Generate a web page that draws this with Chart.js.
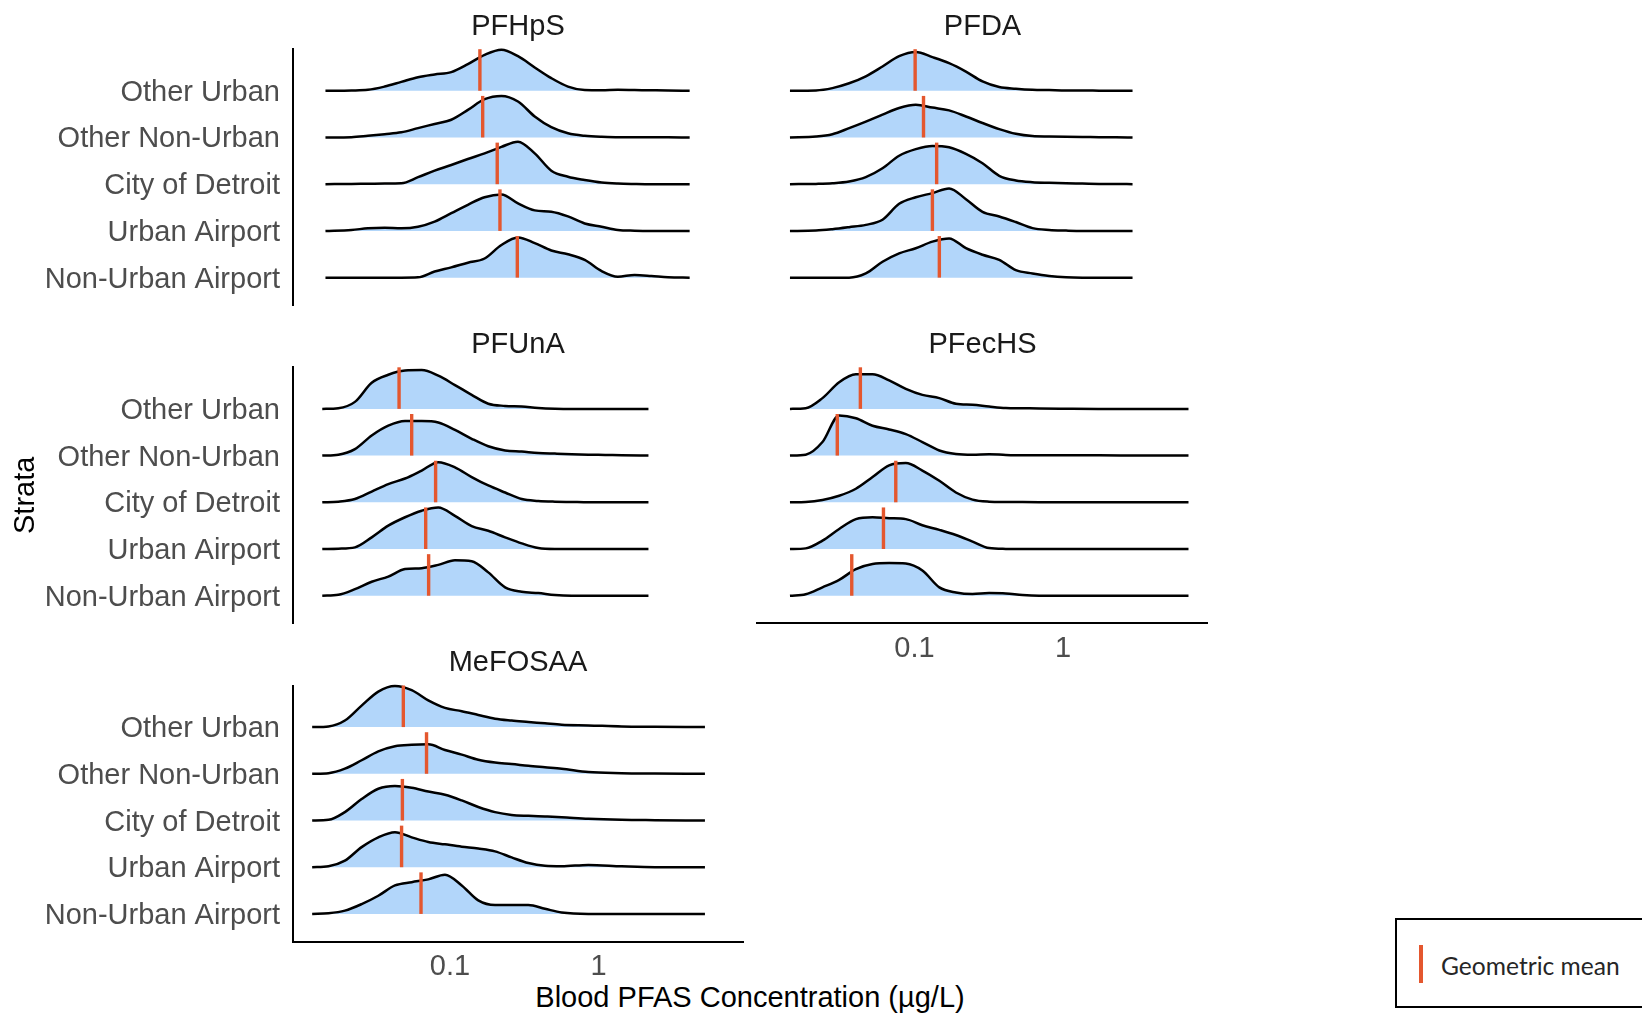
<!DOCTYPE html>
<html>
<head>
<meta charset="utf-8">
<title>Blood PFAS concentration by strata</title>
<script src="https://cdn.jsdelivr.net/npm/chart.js@4.4.1/dist/chart.umd.min.js"></script>
<style>
  html, body { margin: 0; padding: 0; background: #ffffff; width: 1642px; height: 1013px; overflow: hidden; }
  canvas.panel { position: absolute; }
  #xTitle {
    position: absolute; left: 750px; top: 983px; transform: translateX(-50%);
    font: 29px "Liberation Sans", Arial, sans-serif; line-height: 29px;
    color: #000; white-space: nowrap;
  }
  #legend {
    position: absolute; left: 1395px; top: 918px; width: 300px; height: 90px;
    border: 2px solid #000; box-sizing: border-box; background: #fff;
  }
  #legendMark {
    position: absolute; left: 22px; top: 25px; width: 3.5px; height: 38px; background: #E4572E;
  }
  #legendText {
    position: absolute; left: 44px; top: 31px; line-height: 26px;
    font: 24.6px Lato, "Open Sans", sans-serif; color: #262626; white-space: nowrap;
  }
</style>
</head>
<body>
<div id="xTitle">Blood PFAS Concentration (µg/L)</div>
<div id="legend"><span id="legendMark"></span><span id="legendText">Geometric mean</span></div>
<script>
// Strata, listed top ridge first
const STRATA = ['Other Urban', 'Other Non-Urban', 'City of Detroit', 'Urban Airport', 'Non-Urban Airport'];

// Shared log axis (µg/L)
const X_MIN = 0.008725;
const X_MAX = 9.443;
const X_TICKS = [0.1, 1];
const X_TICK_LABELS = ['0.1', '1'];

// ---- PFHpS: density heights at each concentration ----
const PFHPS_CONC = [0.0145, 0.0217, 0.0280, 0.0363, 0.0470, 0.0609, 0.0788, 0.102, 0.132, 0.171, 0.222, 0.287, 0.372, 0.481, 0.623, 0.807, 1.05, 1.35, 1.75, 2.27, 2.94, 4.11];
const PFHPS_OTHER_URBAN = [0, 0.007, 0.02, 0.09, 0.19, 0.29, 0.35, 0.40, 0.57, 0.77, 0.88, 0.74, 0.50, 0.27, 0.09, 0.015, 0.01, 0.02, 0.015, 0.01, 0.005, 0];
const PFHPS_OTHER_NONURBAN = [0, 0.007, 0.036, 0.07, 0.11, 0.20, 0.29, 0.38, 0.59, 0.82, 0.89, 0.77, 0.45, 0.22, 0.09, 0.036, 0.014, 0.007, 0.005, 0.005, 0.003, 0];
const PFHPS_DETROIT = [0, 0.007, 0.01, 0.014, 0.02, 0.15, 0.29, 0.41, 0.54, 0.66, 0.80, 0.91, 0.66, 0.29, 0.16, 0.09, 0.036, 0.014, 0.005, 0, 0, 0];
const PFHPS_URBAN_AIRPORT = [0, 0.02, 0.057, 0.07, 0.057, 0.09, 0.20, 0.38, 0.56, 0.72, 0.78, 0.59, 0.44, 0.41, 0.31, 0.16, 0.09, 0.02, 0.005, 0, 0, 0];
const PFHPS_NONURBAN_AIRPORT = [0, 0, 0, 0, 0, 0.007, 0.13, 0.22, 0.32, 0.41, 0.70, 0.86, 0.74, 0.58, 0.50, 0.38, 0.14, 0.02, 0.057, 0.036, 0.007, 0];
const PFHPS_GEOMEAN = [0.159, 0.166, 0.208, 0.217, 0.284];

// ---- PFDA ----
const PFDA_CONC = [0.0145, 0.0217, 0.0280, 0.0363, 0.0470, 0.0609, 0.0788, 0.102, 0.132, 0.171, 0.222, 0.287, 0.372, 0.481, 0.623, 0.807, 1.05, 1.35, 1.75, 2.27, 2.94];
const PFDA_OTHER_URBAN = [0, 0.007, 0.057, 0.16, 0.31, 0.52, 0.74, 0.83, 0.72, 0.59, 0.41, 0.20, 0.08, 0.043, 0.02, 0.014, 0.007, 0.007, 0.003, 0, 0];
const PFDA_OTHER_NONURBAN = [0, 0.02, 0.07, 0.20, 0.34, 0.49, 0.63, 0.70, 0.64, 0.58, 0.45, 0.31, 0.18, 0.08, 0.03, 0.02, 0.014, 0.01, 0.007, 0.003, 0];
const PFDA_DETROIT = [0, 0.007, 0.02, 0.057, 0.15, 0.34, 0.61, 0.75, 0.82, 0.79, 0.65, 0.45, 0.18, 0.08, 0.043, 0.03, 0.02, 0.014, 0.007, 0.005, 0];
const PFDA_URBAN_AIRPORT = [0, 0.007, 0.036, 0.08, 0.13, 0.24, 0.58, 0.72, 0.81, 0.91, 0.68, 0.41, 0.31, 0.19, 0.06, 0.02, 0.007, 0, 0, 0, 0];
const PFDA_NONURBAN_AIRPORT = [0, 0, 0, 0, 0.09, 0.34, 0.52, 0.63, 0.77, 0.84, 0.63, 0.49, 0.38, 0.16, 0.09, 0.036, 0.007, 0, 0, 0, 0];
const PFDA_GEOMEAN = [0.101, 0.115, 0.141, 0.132, 0.147];

// ---- PFUnA ----
const PFUNA_CONC = [0.0138, 0.0177, 0.0229, 0.0297, 0.0384, 0.0498, 0.0645, 0.0834, 0.108, 0.140, 0.181, 0.235, 0.304, 0.393, 0.509, 0.660, 0.854, 1.11, 1.43, 2.17];
const PFUNA_OTHER_URBAN = [0, 0.014, 0.15, 0.56, 0.73, 0.82, 0.83, 0.71, 0.51, 0.30, 0.11, 0.064, 0.05, 0.02, 0.005, 0, 0, 0, 0, 0];
const PFUNA_OTHER_NONURBAN = [0, 0.02, 0.14, 0.43, 0.64, 0.74, 0.74, 0.71, 0.55, 0.36, 0.20, 0.11, 0.086, 0.057, 0.043, 0.03, 0.02, 0.014, 0.007, 0];
const PFUNA_DETROIT = [0, 0.014, 0.07, 0.23, 0.39, 0.51, 0.68, 0.86, 0.75, 0.54, 0.36, 0.21, 0.07, 0.03, 0.014, 0.007, 0, 0, 0, 0];
const PFUNA_URBAN_AIRPORT = [0, 0.007, 0.036, 0.25, 0.50, 0.68, 0.82, 0.89, 0.71, 0.49, 0.39, 0.25, 0.12, 0.02, 0, 0, 0, 0, 0, 0];
const PFUNA_NONURBAN_AIRPORT = [0, 0.02, 0.14, 0.30, 0.41, 0.57, 0.59, 0.66, 0.76, 0.74, 0.50, 0.18, 0.086, 0.057, 0.014, 0, 0, 0, 0, 0];
const PFUNA_GEOMEAN = [0.0454, 0.0552, 0.0800, 0.0686, 0.0718];

// ---- PFecHS ----
const PFECHS_CONC = [0.0145, 0.0185, 0.0240, 0.0311, 0.0403, 0.0522, 0.0675, 0.0874, 0.113, 0.147, 0.190, 0.246, 0.318, 0.412, 0.534, 0.691, 1.05, 1.75, 2.94, 7.00];
const PFECHS_OTHER_URBAN = [0, 0.014, 0.23, 0.57, 0.74, 0.74, 0.61, 0.43, 0.30, 0.23, 0.11, 0.086, 0.05, 0.02, 0.014, 0.007, 0.003, 0, 0, 0];
const PFECHS_OTHER_NONURBAN = [0, 0.02, 0.29, 0.86, 0.80, 0.64, 0.56, 0.46, 0.29, 0.11, 0.036, 0.02, 0.03, 0.014, 0.007, 0.007, 0.005, 0.005, 0.003, 0];
const PFECHS_DETROIT = [0, 0.007, 0.05, 0.14, 0.29, 0.54, 0.79, 0.84, 0.68, 0.46, 0.21, 0.057, 0.014, 0.007, 0.005, 0.003, 0, 0, 0, 0];
const PFECHS_URBAN_AIRPORT = [0, 0.014, 0.18, 0.43, 0.64, 0.68, 0.66, 0.64, 0.51, 0.41, 0.30, 0.16, 0.02, 0.003, 0, 0, 0, 0, 0, 0];
const PFECHS_NONURBAN_AIRPORT = [0, 0.03, 0.18, 0.34, 0.57, 0.68, 0.70, 0.69, 0.54, 0.18, 0.07, 0.036, 0.057, 0.05, 0.014, 0, 0, 0, 0, 0];
const PFECHS_GEOMEAN = [0.0432, 0.0302, 0.0748, 0.0618, 0.0378];

// ---- MeFOSAA ----
const MEFOSAA_CONC = [0.0118, 0.0152, 0.0196, 0.0254, 0.0329, 0.0426, 0.0552, 0.0714, 0.0925, 0.120, 0.155, 0.201, 0.260, 0.337, 0.436, 0.565, 0.854, 1.43, 2.40, 5.21];
const MEFOSAA_OTHER_URBAN = [0, 0.014, 0.14, 0.46, 0.76, 0.88, 0.79, 0.57, 0.41, 0.34, 0.26, 0.18, 0.14, 0.11, 0.08, 0.05, 0.036, 0.014, 0.007, 0];
const MEFOSAA_OTHER_NONURBAN = [0, 0.014, 0.11, 0.29, 0.48, 0.59, 0.62, 0.63, 0.51, 0.41, 0.30, 0.24, 0.21, 0.17, 0.14, 0.11, 0.036, 0.014, 0.007, 0];
const MEFOSAA_DETROIT = [0, 0.014, 0.18, 0.46, 0.68, 0.74, 0.70, 0.62, 0.55, 0.43, 0.29, 0.18, 0.12, 0.10, 0.086, 0.07, 0.036, 0.014, 0.007, 0];
const MEFOSAA_URBAN_AIRPORT = [0, 0.02, 0.14, 0.43, 0.64, 0.75, 0.64, 0.54, 0.49, 0.44, 0.40, 0.34, 0.21, 0.09, 0.03, 0.02, 0.05, 0.02, 0, 0];
const MEFOSAA_NONURBAN_AIRPORT = [0, 0.014, 0.07, 0.21, 0.39, 0.61, 0.68, 0.74, 0.84, 0.61, 0.29, 0.19, 0.19, 0.19, 0.11, 0.03, 0, 0, 0, 0];
const MEFOSAA_GEOMEAN = [0.0485, 0.0695, 0.0478, 0.0472, 0.0638];

// ---- Styling ----
const FILL = 'rgb(178, 214, 250)';
const OUTLINE = '#000000';
const MEAN_RED = '#E4572E';
const MEAN_MARK_HEIGHT = 0.89;   // vertical extent of the mean marker, in ridge units
const Y_MIN = 0.41, Y_MAX = 5.89;

const FONT_FAMILY = '"Liberation Sans", Arial, Helvetica, sans-serif';
const FONT_SIZE = 29;
const LINE_H = FONT_SIZE * 1.2;

// ---- Facet grid geometry (px) ----
const PLOT_LEFT = [292.7, 757.2];
const PLOT_TOP = [49.2, 367.3, 685.5];
const PLOT_W = 450.6;
const PLOT_H = 256;
const CANVAS_LEFT = [0, 740];
const CANVAS_W = [760, 480];
const Y_AXIS_W = 292.7;
const X_AXIS_H = 48;
const TITLE_PAD = { top: 4, bottom: 5.0 };

const panels = [
  { title: 'PFHpS', conc: PFHPS_CONC, geoMean: PFHPS_GEOMEAN, col: 0, row: 0, xAxis: false, yTitle: false,
    ridges: [PFHPS_OTHER_URBAN, PFHPS_OTHER_NONURBAN, PFHPS_DETROIT, PFHPS_URBAN_AIRPORT, PFHPS_NONURBAN_AIRPORT] },
  { title: 'PFDA', conc: PFDA_CONC, geoMean: PFDA_GEOMEAN, col: 1, row: 0, xAxis: false, yTitle: false,
    ridges: [PFDA_OTHER_URBAN, PFDA_OTHER_NONURBAN, PFDA_DETROIT, PFDA_URBAN_AIRPORT, PFDA_NONURBAN_AIRPORT] },
  { title: 'PFUnA', conc: PFUNA_CONC, geoMean: PFUNA_GEOMEAN, col: 0, row: 1, xAxis: false, yTitle: true,
    ridges: [PFUNA_OTHER_URBAN, PFUNA_OTHER_NONURBAN, PFUNA_DETROIT, PFUNA_URBAN_AIRPORT, PFUNA_NONURBAN_AIRPORT] },
  { title: 'PFecHS', conc: PFECHS_CONC, geoMean: PFECHS_GEOMEAN, col: 1, row: 1, xAxis: true, yTitle: false,
    ridges: [PFECHS_OTHER_URBAN, PFECHS_OTHER_NONURBAN, PFECHS_DETROIT, PFECHS_URBAN_AIRPORT, PFECHS_NONURBAN_AIRPORT] },
  { title: 'MeFOSAA', conc: MEFOSAA_CONC, geoMean: MEFOSAA_GEOMEAN, col: 0, row: 2, xAxis: true, yTitle: false,
    ridges: [MEFOSAA_OTHER_URBAN, MEFOSAA_OTHER_NONURBAN, MEFOSAA_DETROIT, MEFOSAA_URBAN_AIRPORT, MEFOSAA_NONURBAN_AIRPORT] }
];

Chart.defaults.font.family = FONT_FAMILY;

function buildDatasets(p) {
  const n = STRATA.length;
  const sets = [];
  p.ridges.forEach((heights, i) => {
    const base = n - i;
    sets.push({
      data: p.conc.map((x, k) => ({ x: x, y: base + heights[k] })),
      borderColor: OUTLINE,
      borderWidth: 2.5,
      borderJoinStyle: 'round',
      backgroundColor: FILL,
      fill: { value: base },
      pointRadius: 0,
      cubicInterpolationMode: 'monotone',
      clip: false,
      order: 10 - i
    });
  });
  p.geoMean.forEach((g, i) => {
    const base = n - i;
    sets.push({
      data: [{ x: g, y: base }, { x: g, y: base + MEAN_MARK_HEIGHT }],
      borderColor: MEAN_RED,
      borderWidth: 3.4,
      borderCapStyle: 'butt',
      pointRadius: 0,
      fill: false,
      clip: false,
      order: 0
    });
  });
  return sets;
}

// Tick labels should not push the plot area in; the grid geometry is fixed above.
function dropLabelPadding(s) {
  s.paddingTop = 0; s.paddingBottom = 0; s.paddingLeft = 0; s.paddingRight = 0;
}

panels.forEach(p => {
  const plotLeft = PLOT_LEFT[p.col];
  const plotTop = PLOT_TOP[p.row];
  const canvasLeft = CANVAS_LEFT[p.col];
  const canvasW = CANVAS_W[p.col];
  const boxTop = plotTop - (TITLE_PAD.top + LINE_H + TITLE_PAD.bottom);
  const canvasTop = Math.floor(boxTop);
  const bottomNeed = plotTop + PLOT_H + (p.xAxis ? X_AXIS_H : 0);
  const canvasH = Math.ceil(bottomNeed) - canvasTop + 4;
  const hasY = p.col === 0;

  const padLeft = hasY ? 0 : plotLeft - canvasLeft;
  const padRight = canvasW - (plotLeft - canvasLeft) - PLOT_W;
  const padTop = boxTop - canvasTop;
  const padBottom = canvasTop + canvasH - bottomNeed;

  const canvas = document.createElement('canvas');
  canvas.className = 'panel';
  canvas.width = canvasW;
  canvas.height = canvasH;
  canvas.style.left = canvasLeft + 'px';
  canvas.style.top = canvasTop + 'px';
  canvas.style.width = canvasW + 'px';
  canvas.style.height = canvasH + 'px';
  document.body.appendChild(canvas);

  const yScale = {
    type: 'linear',
    min: Y_MIN,
    max: Y_MAX,
    bounds: 'data',
    display: hasY,
    grid: { display: false, drawTicks: false },
    border: { display: hasY, color: '#000', width: 2 },
    ticks: {
      padding: 12.7,
      labelOffset: 2,
      color: '#4D4D4D',
      font: { size: FONT_SIZE },
      autoSkip: false,
      callback: (v) => STRATA[STRATA.length - v]
    },
    title: {
      display: p.yTitle,
      text: 'Strata',
      color: '#000',
      font: { size: FONT_SIZE },
      padding: { top: 8.2, bottom: 0 }
    },
    afterBuildTicks: (s) => { s.ticks = STRATA.map((_, i) => ({ value: STRATA.length - i })); },
    afterFit: (s) => {
      dropLabelPadding(s);
      if (hasY) s.width = Y_AXIS_W;
    }
  };

  const xScale = {
    type: 'logarithmic',
    min: X_MIN,
    max: X_MAX,
    bounds: 'data',
    display: p.xAxis,
    grid: { display: false, drawTicks: false },
    border: { display: true, color: '#000', width: 2 },
    ticks: {
      padding: 8.0,
      color: '#4D4D4D',
      font: { size: FONT_SIZE },
      autoSkip: false,
      maxRotation: 0,
      minRotation: 0,
      callback: (v, i) => X_TICK_LABELS[i]
    },
    afterBuildTicks: (s) => { s.ticks = X_TICKS.map(v => ({ value: v })); },
    afterFit: (s) => {
      dropLabelPadding(s);
      if (p.xAxis) s.height = X_AXIS_H;
    }
  };

  new Chart(canvas, {
    type: 'line',
    data: { datasets: buildDatasets(p) },
    options: {
      responsive: false,
      animation: false,
      devicePixelRatio: 1,
      events: [],
      layout: {
        autoPadding: false,
        padding: { left: padLeft, right: padRight, top: padTop, bottom: padBottom }
      },
      scales: { x: xScale, y: yScale },
      plugins: {
        legend: { display: false },
        tooltip: { enabled: false },
        title: {
          display: true,
          text: p.title,
          fullSize: false,
          color: '#1A1A1A',
          font: { size: FONT_SIZE, weight: 'normal' },
          padding: TITLE_PAD
        }
      }
    }
  });
});
</script>
</body>
</html>
